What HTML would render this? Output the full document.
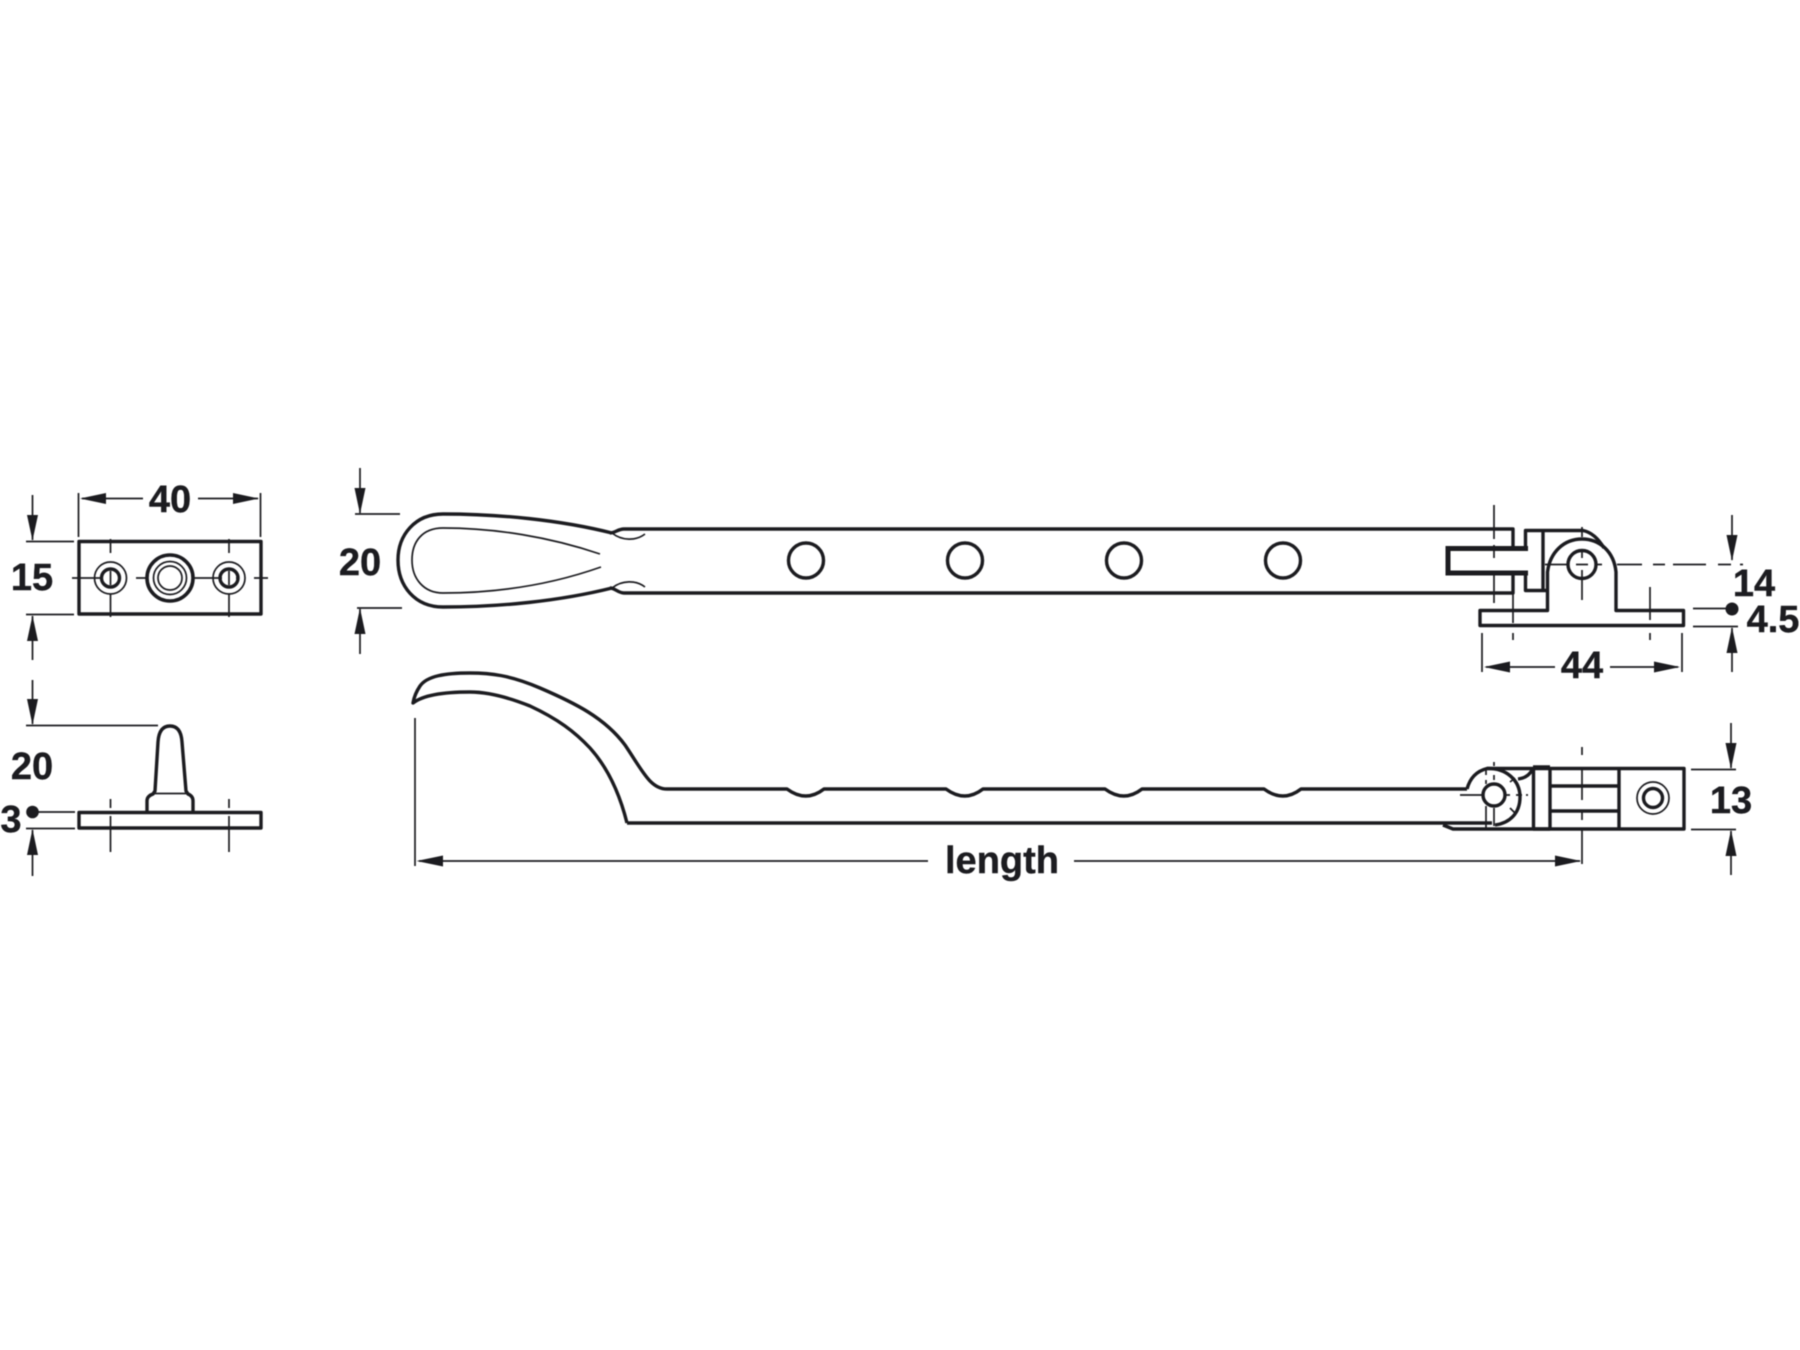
<!DOCTYPE html>
<html><head><meta charset="utf-8"><style>
html,body{margin:0;padding:0;background:#fff;width:1800px;height:1350px;overflow:hidden}
svg{display:block;filter:blur(0.4px)}
text{font-family:"Liberation Sans",Arial,sans-serif;font-weight:bold;font-size:38px;fill:#1c1c20;text-anchor:middle;stroke:#1c1c20;stroke-width:0.4}
.k{fill:none;stroke:#1c1c20;stroke-width:3.4;stroke-linejoin:round;stroke-linecap:butt}
.t{fill:none;stroke:#1c1c20;stroke-width:1.7}
.a{fill:#1c1c20;stroke:none}
</style></head><body>
<svg width="1800" height="1350" viewBox="0 0 1800 1350" xmlns="http://www.w3.org/2000/svg">
<rect width="1800" height="1350" fill="#fff"/>

<!-- LEFT TOP VIEW -->
<rect class="k" x="79" y="541.5" width="182" height="72.5"/>
<circle class="t" cx="110.5" cy="578" r="16"/><circle class="k" cx="110.5" cy="578" r="9"/>
<circle class="t" cx="229" cy="578" r="16"/><circle class="k" cx="229" cy="578" r="9"/>
<circle cx="170" cy="578" r="23" fill="none" stroke="#1c1c20" stroke-width="3.6"/>
<circle class="t" cx="170" cy="578" r="16.5"/><circle class="t" cx="170" cy="578" r="12"/>
<path class="t" d="M72 578H103M118 578H120M136 578H147M193 578H222M236 578H238M254 578H268M110.5 539V553M110.5 571V585M110.5 594V617M229 539V553M229 571V585M229 594V617"/>
<path class="t" d="M78.5 493V537M260.5 493V537M82 498.5H143M198 498.5H258"/>
<polygon class="a" points="80,498.5 106,493 106,504"/>
<polygon class="a" points="259,498.5 233,493 233,504"/>
<text x="170" y="512">40</text>
<path class="t" d="M26 541.5H74M26 614.5H74M32.5 495V540M32.5 616V660"/>
<polygon class="a" points="32.5,540.5 27,515 38,515"/>
<polygon class="a" points="32.5,615.5 27,641 38,641"/>
<text x="32" y="590">15</text>

<!-- LEFT SIDE VIEW -->
<rect class="k" x="79" y="812.5" width="182" height="15.5"/>
<path class="k" d="M147 812V801Q147 796 153 794L155 791L158 742Q159 726 170 726Q181 726 182 742L186 791L188 794Q193 796 193 801V812"/>
<path class="t" d="M154 793.5H187"/>
<path class="t" d="M110.5 799V808M110.5 816V852M229 799V808M229 816V852"/>
<path class="t" d="M32.5 680V724M26 725.5H158M38 812H75M26 828.5H75M32.5 830V876"/>
<polygon class="a" points="32.5,725 27,699 38,699"/>
<polygon class="a" points="32.5,829 27,855 38,855"/>
<circle class="a" cx="32.5" cy="812" r="6.3"/>
<text x="32" y="779">20</text>
<text x="11" y="832">3</text>

<!-- MIDDLE TOP VIEW -->
<path class="k" d="M612 533C560 520 500 514 443 514C415 514 398 535 398 560C398 586 415 607 443 607C500 607 560 601 612 588"/>
<path class="t" stroke-width="1.9" d="M600 554C550 537 495 528 443 528C422 528 412 542 412 560C412 579 424 593 443 593C495 593 550 585 601 567"/>
<path class="k" d="M610 533C615 533 618 529 624 529H1513V548M610 588C615 588 618 593 624 593H1513V573"/>
<path class="t" stroke-width="2" d="M612 533C622 541 636 541 645 534M612 588C622 580 636 580 645 587"/>
<circle class="k" cx="806" cy="560.5" r="17.5"/><circle class="k" cx="965" cy="560.5" r="17.5"/><circle class="k" cx="1124" cy="560.5" r="17.5"/><circle class="k" cx="1283" cy="560.5" r="17.5"/>
<path class="t" d="M355 514H400M357 608H402M360 468V513M360 609V654"/>
<polygon class="a" points="360,514 354.5,488 365.5,488"/>
<polygon class="a" points="360,608 354.5,634 365.5,634"/>
<text x="360" y="575">20</text>

<!-- FORK AND BRACKET -->
<path d="M1528 548.5H1448V573H1528" fill="none" stroke="#1c1c20" stroke-width="5"/>
<path class="k" d="M1525.5 548V530.5H1583Q1595 533 1604 548M1525.5 573V590.5H1546"/>
<path class="k" d="M1543 530V590"/>
<path class="k" d="M1480 625V610.5H1547.5V572C1550 552 1564 539 1582 539C1600 539 1614 552 1616 572V610.5H1683.5V625.5H1480Z"/>
<circle cx="1582" cy="564.5" r="14" fill="none" stroke="#1c1c20" stroke-width="3.4"/>
<path class="t" d="M1494 505V539M1494 545V558M1494 575V603M1513 590V623M1513 633V640M1582 527V537M1582 552V558M1582 570V600M1545 564.5H1568M1576 564.5H1588M1596 564.5H1602M1617 564.5H1642M1653 564.5H1665M1673 564.5H1706M1718 564.5H1731M1740 564.5H1743M1650 587V620M1650 633V640"/>
<path class="t" d="M1482 633V672M1682 633V672M1486 667H1555M1610 667H1678"/>
<polygon class="a" points="1484,667 1510,661.5 1510,672.5"/>
<polygon class="a" points="1680,667 1654,661.5 1654,672.5"/>
<text x="1582" y="678">44</text>
<path class="t" d="M1732 515V560M1693 608.5H1727M1693 626.5H1738M1732 628V672"/>
<polygon class="a" points="1732,561 1726.5,535 1737.5,535"/>
<polygon class="a" points="1732,627 1726.5,653 1737.5,653"/>
<circle class="a" cx="1732" cy="609" r="6.5"/>
<text x="1754" y="596">14</text>
<text x="1773" y="632">4.5</text>

<!-- BOTTOM VIEW -->
<path class="k" d="M667 789H787Q806 803 824 789H946Q965 803 983 789H1105Q1124 803 1142 789H1264Q1283 803 1301 789H1467"/>
<path class="k" d="M627 823H1492"/>
<path class="k" d="M667 789C650 789 642 770 625 745C605 718 575 703 540 688C510 675 490 673 470 673C445 673 427 676 420 686C416 692 414 697 413 703C422 696 440 692 470 692C490 692 510 698 530 706C558 719 575 732 590 748C608 768 620 795 627 823"/>
<path class="t" d="M415 718V866M419 861H928M1074 861H1580M1582 830V864M1582 812V820M1582 768V800M1582 747V755"/>
<polygon class="a" points="416.5,861 443,855.5 443,866.5"/>
<polygon class="a" points="1581,861 1555,855.5 1555,866.5"/>
<text x="1002" y="873">length</text>
<path class="k" d="M1467 789C1470 778 1477 771 1487 768.5H1684V829H1453L1443 825"/>
<path class="k" d="M1487 768.5C1506 768 1520 780 1520 797C1520 813 1510 823 1495 825"/>
<path class="k" d="M1518 779C1526 778 1530 774 1532 770"/>
<path class="k" d="M1533.5 767V828.5M1550 767V830M1533 767H1550M1533 829H1550M1550 786H1619M1550 811H1619M1619 768V829"/>
<circle class="k" cx="1494" cy="795" r="11"/>
<path class="t" d="M1486 770V775M1486 780V784M1486 806V828M1494 762V766M1494 775V780M1494 808V826M1460 795H1483M1505 795H1510M1516 795H1522M1526 795H1528M1510 782L1515 778M1510 808L1515 813"/>
<circle class="t" cx="1653" cy="798" r="16"/><circle class="k" cx="1653" cy="798" r="9.5"/>
<path class="t" d="M1691 769.5H1736M1691 829.5H1736M1731 723V768M1731 831V875"/>
<polygon class="a" points="1731,769 1725.5,743 1736.5,743"/>
<polygon class="a" points="1731,830 1725.5,856 1736.5,856"/>
<text x="1731" y="813">13</text>
</svg>
</body></html>
